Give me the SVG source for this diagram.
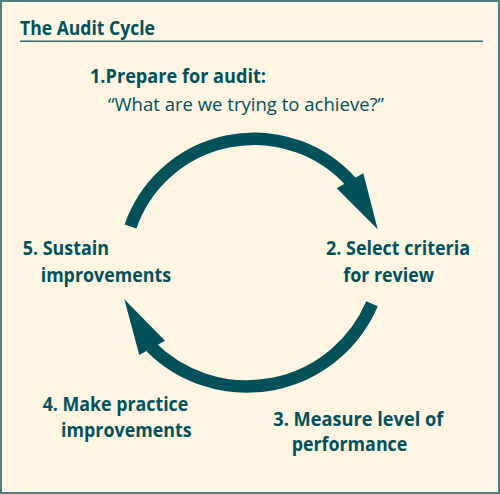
<svg xmlns="http://www.w3.org/2000/svg" width="500" height="494" viewBox="0 0 500 494">
<style>
.t{font-family:"Open Sans","Noto Sans","Liberation Sans",sans-serif;fill:#00515a}
.b{font-weight:bold;font-size:19.5px}
.r{font-weight:normal;font-size:19px}
.arc{fill:none;stroke:#00515a;stroke-width:12.5}
.head{fill:#00515a}
</style>
<rect x="1" y="1" width="498" height="492" fill="#fef5e3" stroke="#4d7f82" stroke-width="2"/>
<g id="title">
<text class="t b" x="20" y="35" textLength="135" lengthAdjust="spacingAndGlyphs">The Audit Cycle</text>
<line x1="20" y1="41.3" x2="483" y2="41.3" stroke="#2f6b70" stroke-width="1.5"/>
</g>
<g id="connectors">
<path class="arc" d="M130.5,226.5 A130.6,130.6 0 0 1 351,182"/>
<polygon class="head" points="377.7,229.3 363.3,173.3 336.7,188.3"/>
<path class="arc" d="M372,303.8 A136,136 0 0 1 151,347"/>
<polygon class="head" points="124.3,299.3 139.3,355 165,340.7"/>
</g>
<g id="step1">
<text class="t b" x="90" y="83.3" textLength="176" lengthAdjust="spacingAndGlyphs">1.Prepare for audit:</text>
<text class="t r" x="108" y="111" textLength="276" lengthAdjust="spacingAndGlyphs">“What are we trying to achieve?”</text>
</g>
<g id="step2">
<text class="t b" x="326" y="255" textLength="144" lengthAdjust="spacingAndGlyphs">2. Select criteria</text>
<text class="t b" x="343.3" y="281.7" textLength="90.7" lengthAdjust="spacingAndGlyphs">for review</text>
</g>
<g id="step3">
<text class="t b" x="273.3" y="426" textLength="170" lengthAdjust="spacingAndGlyphs">3. Measure level of</text>
<text class="t b" x="291.7" y="450.5" textLength="115.6" lengthAdjust="spacingAndGlyphs">performance</text>
</g>
<g id="step4">
<text class="t b" x="42.7" y="410.7" textLength="145.6" lengthAdjust="spacingAndGlyphs">4. Make practice</text>
<text class="t b" x="61" y="437.3" textLength="130.7" lengthAdjust="spacingAndGlyphs">improvements</text>
</g>
<g id="step5">
<text class="t b" x="22.7" y="255" textLength="86.3" lengthAdjust="spacingAndGlyphs">5. Sustain</text>
<text class="t b" x="40.7" y="281.7" textLength="130.3" lengthAdjust="spacingAndGlyphs">improvements</text>
</g>
</svg>
